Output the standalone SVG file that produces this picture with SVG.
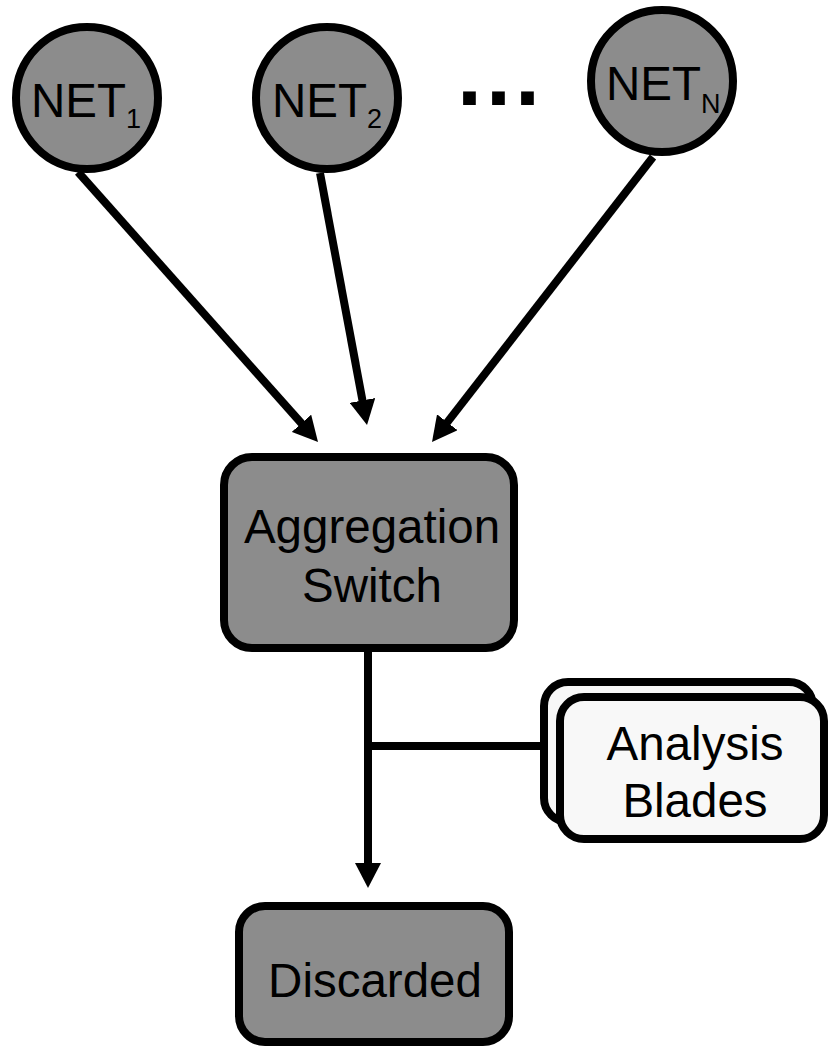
<svg xmlns="http://www.w3.org/2000/svg" width="830" height="1050" viewBox="0 0 830 1050">
  <style>
    .net { fill: #8c8c8c; stroke: #000; stroke-width: 8; }
    .box { fill: #8c8c8c; stroke: #000; stroke-width: 8; }
    .blade { fill: #f8f8f8; stroke: #000; stroke-width: 8; }
    .lbl { font-family: "Liberation Sans", Arial, sans-serif; font-size: 47.5px; fill: #000; }
    .sub { font-size: 27px; }
    .mid { text-anchor: middle; }
    .conn { stroke: #000; stroke-width: 8; fill: none; }
  </style>
  <defs>
    <marker id="arrow" viewBox="0 0 25 26" refX="9" refY="13" markerWidth="25" markerHeight="26" markerUnits="userSpaceOnUse" orient="auto">
      <path d="M0,0 L25,13 L0,26 z" fill="#000"/>
    </marker>
  </defs>
  <g id="connectors">
    <line class="conn" x1="78" y1="172" x2="307.4" y2="430.0" marker-end="url(#arrow)"/>
    <line class="conn" x1="320" y1="173" x2="364.1" y2="409.3" marker-end="url(#arrow)"/>
    <line class="conn" x1="653" y1="157" x2="441.8" y2="429.4" marker-end="url(#arrow)"/>
    <line class="conn" x1="368" y1="652" x2="368" y2="872" marker-end="url(#arrow)"/>
    <line class="conn" x1="368" y1="746" x2="544" y2="746"/>
  </g>
  <g id="net1">
    <circle class="net" cx="87" cy="98" r="71"/>
    <text class="lbl" x="31" y="117">NET<tspan class="sub" dy="11">1</tspan></text>
  </g>
  <g id="net2">
    <circle class="net" cx="327" cy="98" r="71"/>
    <text class="lbl" x="272" y="117">NET<tspan class="sub" dy="11">2</tspan></text>
  </g>
  <g id="dots">
    <text x="457" y="105" font-family="Liberation Sans, Arial, sans-serif" font-size="90" font-weight="bold" letter-spacing="4">...</text>
  </g>
  <g id="netn">
    <circle class="net" cx="662" cy="81" r="71"/>
    <text class="lbl" x="606" y="100">NET<tspan class="sub" dy="13">N</tspan></text>
  </g>
  <g id="aggregation">
    <rect class="box" x="224" y="457" width="290" height="191" rx="28"/>
    <text class="lbl mid" x="372" y="543">Aggregation</text>
    <text class="lbl mid" x="372" y="602">Switch</text>
  </g>
  <g id="blades">
    <rect class="blade" x="544" y="682" width="269" height="140" rx="24"/>
    <rect class="blade" x="560" y="697" width="264" height="142" rx="24"/>
    <text class="lbl mid" x="695" y="760">Analysis</text>
    <text class="lbl mid" x="695" y="817">Blades</text>
  </g>
  <g id="discarded">
    <rect class="box" x="239" y="906" width="270" height="136" rx="26"/>
    <text class="lbl mid" x="375" y="997">Discarded</text>
  </g>
</svg>
